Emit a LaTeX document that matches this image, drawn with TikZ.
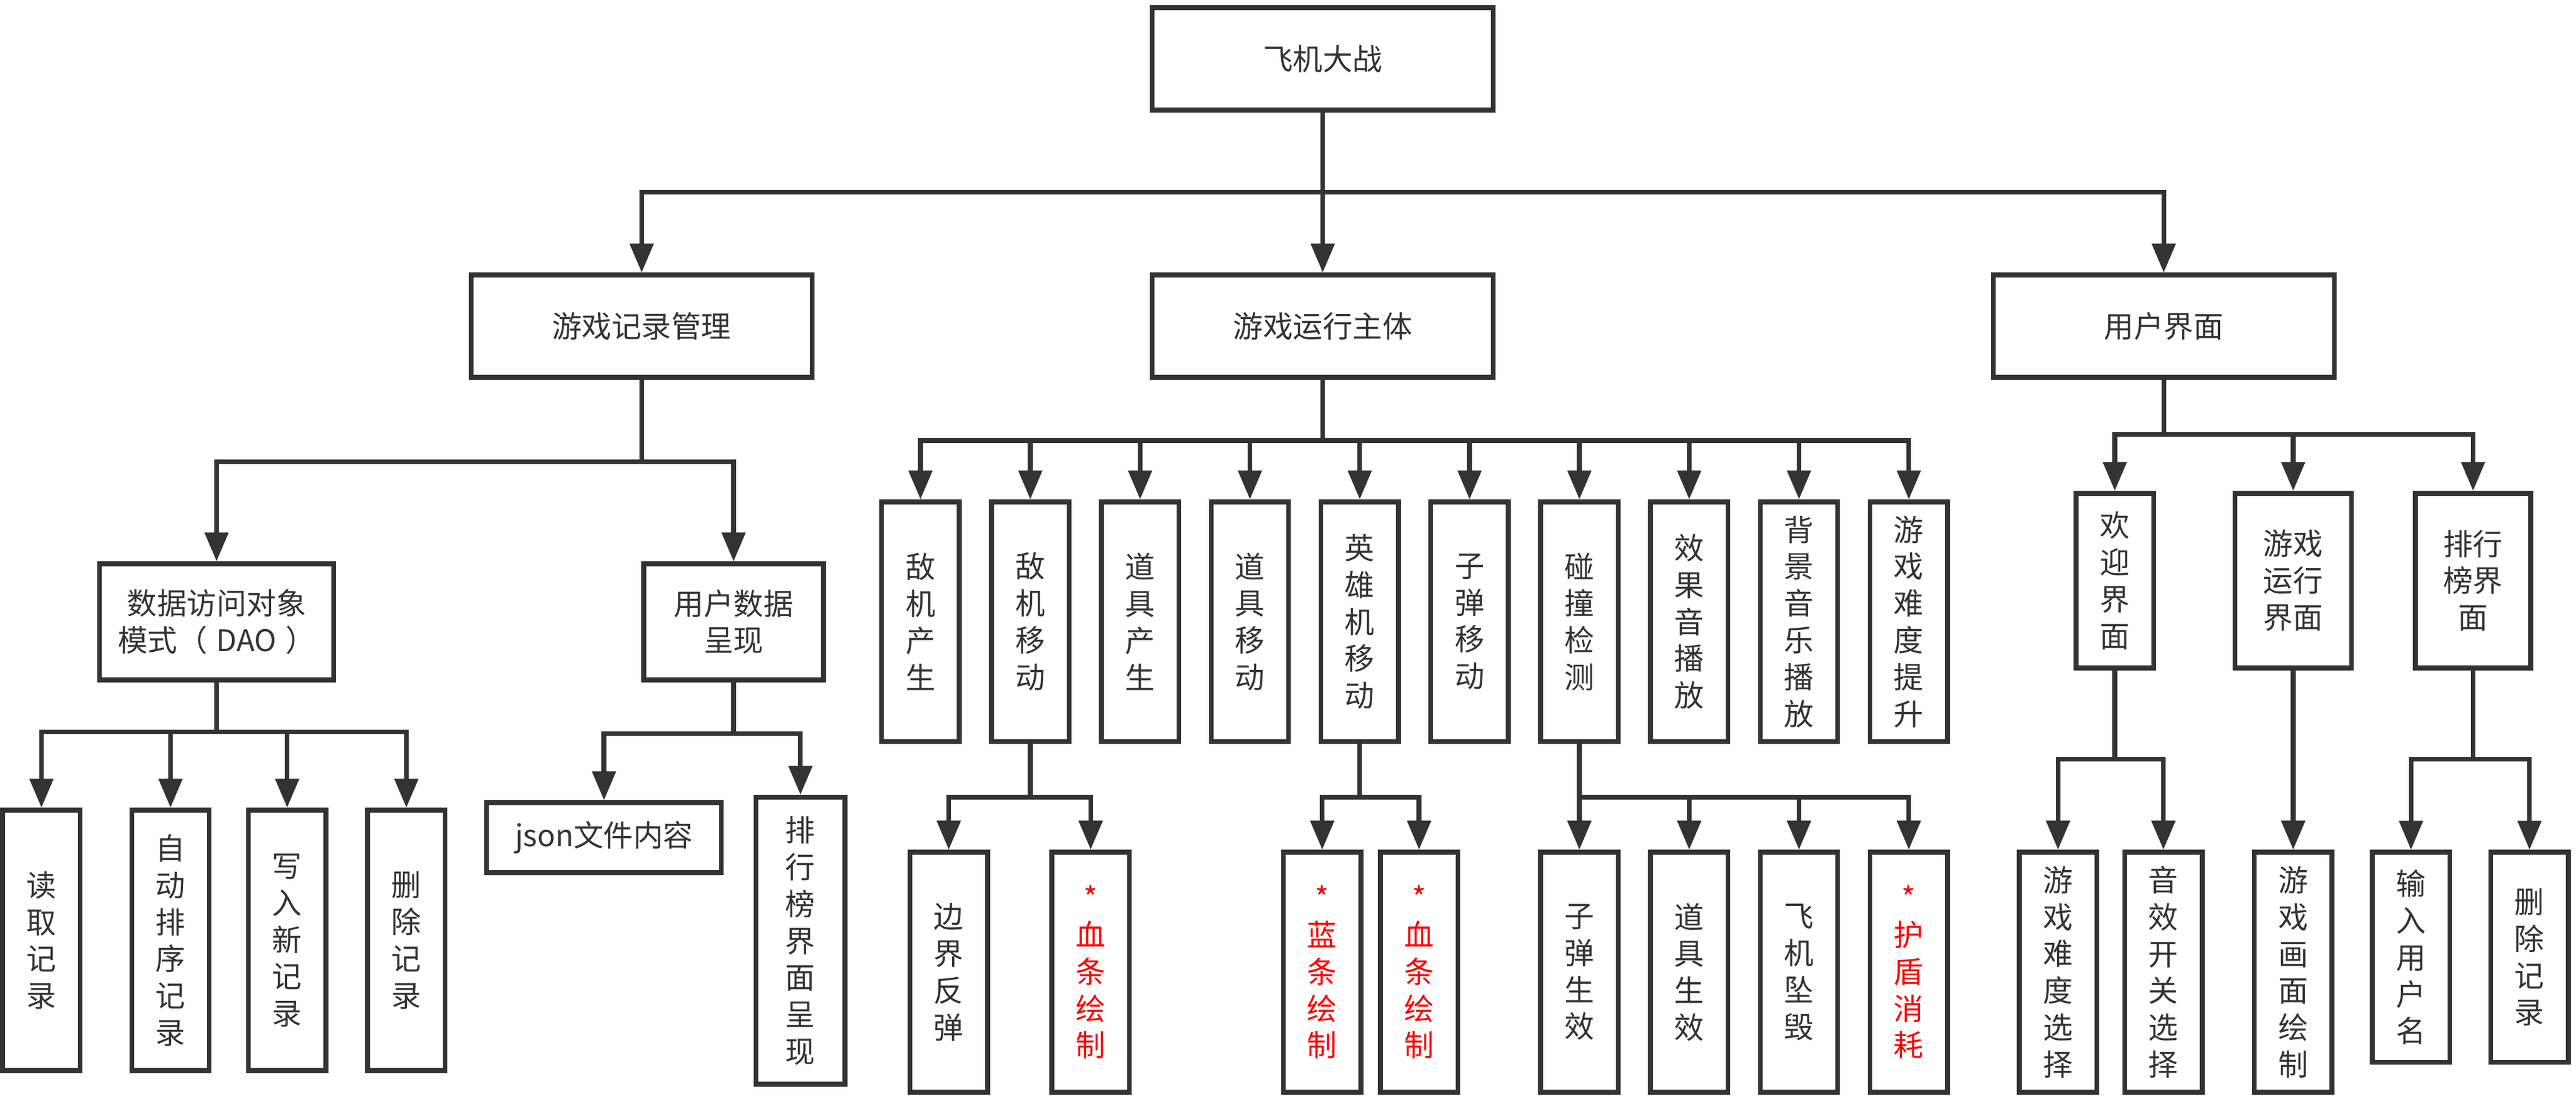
\documentclass[tikz,border=0pt]{standalone}
\usepackage{fontspec}
\setmainfont{Noto Sans CJK SC}
\usepackage{tikz}
\usetikzlibrary{arrows.meta,positioning}
\definecolor{ink}{HTML}{333333}
\tikzstyle{block} = [rectangle, draw=ink, line width=2.8pt, text=ink, inner sep=0pt,
    align=center, font=\fontsize{17.5}{21.6}\selectfont, minimum width=200pt, minimum height=60pt]
\tikzstyle{tall} = [block, minimum width=45.5pt, minimum height=140.5pt]
\tikzstyle{warn} = [text=red]
\tikzstyle{line} = [draw=ink, line width=2.8pt, -{Triangle[length=17pt,width=13.5pt]}]

\begin{document}
\begin{tikzpicture}[x=1pt, y=-1pt, node distance=64.4pt]
    \useasboundingbox (0,0) rectangle (1510.67,645.33);
    % Nodes
    \node [block] (game) at (775.7,34.5) {飞机大战};
    \node [block] (rec) at (376.3,191.2) {游戏记录管理};
    \node [block] (run) at (775.7,191.2) {游戏运行主体};
    \node [block] (ui) at (1268.9,191.2) {用户界面};
    % records
    \node [block, minimum width=137.3pt, minimum height=68pt] (dao) at (127,364.5) {数据访问对象\\模式（\hspace{0.3em}DAO\hspace{0.3em}）};
    \node [block, minimum width=105.3pt, minimum height=68pt] (show) at (430.2,364.5) {用户数据\\呈现};
    \node [tall, minimum height=152.7pt] (read) at (24.3,551.2) {读\\取\\记\\录};
    \node [tall, minimum height=152.7pt] (sort) at (100,551.2) {自\\动\\排\\序\\记\\录};
    \node [tall, minimum height=152.7pt] (write) at (168.4,551.2) {写\\入\\新\\记\\录};
    \node [tall, minimum height=152.7pt] (del) at (238.3,551.2) {删\\除\\记\\录};
    \node [block, minimum width=137.7pt, minimum height=41pt] (json) at (354.2,491) {json文件内容};
    \node [tall, minimum width=52.1pt, minimum height=168.2pt] (rank) at (469.4,551.4) {排\\行\\榜\\界\\面\\呈\\现};
    % game body
    \node [tall] (espawn) at (539.8,364.4) {敌\\机\\产\\生};
    \node [tall, right of=espawn] (emove) {敌\\机\\移\\动};
    \node [tall, right of=emove] (pspawn) {道\\具\\产\\生};
    \node [tall, right of=pspawn] (pmove) {道\\具\\移\\动};
    \node [tall, right of=pmove] (hmove) {英\\雄\\机\\移\\动};
    \node [tall, right of=hmove] (bmove) {子\\弹\\移\\动};
    \node [tall, right of=bmove] (hit) {碰\\撞\\检\\测};
    \node [tall, right of=hit] (sound) {效\\果\\音\\播\\放};
    \node [tall, right of=sound] (music) {背\\景\\音\\乐\\播\\放};
    \node [tall, right of=music] (level) {游\\戏\\难\\度\\提\\升};
    \node [tall, minimum height=140.7pt] (bounce) at (556.4,569.8) {边\\界\\反\\弹};
    \node [tall, warn, minimum height=140.7pt] (ehp) at (639.6,569.8) {*\\血\\条\\绘\\制};
    \node [tall, warn, minimum height=140.7pt] (blue) at (775.4,569.8) {*\\蓝\\条\\绘\\制};
    \node [tall, warn, minimum height=140.7pt] (hhp) at (832.2,569.8) {*\\血\\条\\绘\\制};
    \node [tall, minimum height=140.7pt] (bhit) at (hit |- 0,569.8) {子\\弹\\生\\效};
    \node [tall, minimum height=140.7pt] (phit) at (sound |- 0,569.8) {道\\具\\生\\效};
    \node [tall, minimum height=140.7pt] (crash) at (music |- 0,569.8) {飞\\机\\坠\\毁};
    \node [tall, warn, minimum height=140.7pt] (shield) at (level |- 0,569.8) {*\\护\\盾\\消\\耗};
    % user interface
    \node [tall, minimum height=102.3pt] (welcome) at (1240.2,340.3) {欢\\迎\\界\\面};
    \node [tall, minimum width=68.4pt, minimum height=102.3pt] (play) at (1344.8,340.3) {游戏\\运行\\界面};
    \node [tall, minimum width=67.7pt, minimum height=102.3pt] (board) at (1450.3,340.3) {排行\\榜界\\面};
    \node [tall, minimum height=140.7pt] (diff) at (1206.9,569.8) {游\\戏\\难\\度\\选\\择};
    \node [tall, minimum height=140.7pt] (sfx) at (1268.7,569.8) {音\\效\\开\\关\\选\\择};
    \node [tall, minimum height=140.7pt] (paint) at (play |- 0,569.8) {游\\戏\\画\\面\\绘\\制};
    \node [tall, minimum height=123.2pt] (name) at (1413.9,561.1) {输\\入\\用\\户\\名};
    \node [tall, minimum height=123.2pt] (erase) at (1483.4,561.1) {删\\除\\记\\录};
    % Bars
    \coordinate (b1) at (0,112.7);
    \coordinate (b2) at (0,270.7);
    \coordinate (b3) at (0,429);
    \coordinate (b4) at (0,430);
    \coordinate (b5) at (0,258.2);
    \coordinate (b6) at (0,467.3);
    \coordinate (b7) at (0,254.7);
    \coordinate (b8) at (0,445);
    % Paths
    \path [line] (game.south) -- (game.south |- b1) -| (rec.north);
    \path [line] (game.south) -- (run.north);
    \path [line] (game.south) -- (game.south |- b1) -| (ui.north);
    \path [line] (rec.south) -- (rec.south |- b2) -| (dao.north);
    \path [line] (rec.south) -- (rec.south |- b2) -| (show.north);
    \path [line] (dao.south) -- (dao.south |- b3) -| (read.north);
    \path [line] (dao.south) -- (dao.south |- b3) -| (sort.north);
    \path [line] (dao.south) -- (dao.south |- b3) -| (write.north);
    \path [line] (dao.south) -- (dao.south |- b3) -| (del.north);
    \path [line] (show.south) -- (show.south |- b4) -| (json.north);
    \path [line] (show.south) -- (show.south |- b4) -| (rank.north);
    \path [line] (run.south) -- (run.south |- b5) -| (espawn.north);
    \path [line] (run.south) -- (run.south |- b5) -| (emove.north);
    \path [line] (run.south) -- (run.south |- b5) -| (pspawn.north);
    \path [line] (run.south) -- (run.south |- b5) -| (pmove.north);
    \path [line] (run.south) -- (run.south |- b5) -| (hmove.north);
    \path [line] (run.south) -- (run.south |- b5) -| (bmove.north);
    \path [line] (run.south) -- (run.south |- b5) -| (hit.north);
    \path [line] (run.south) -- (run.south |- b5) -| (sound.north);
    \path [line] (run.south) -- (run.south |- b5) -| (music.north);
    \path [line] (run.south) -- (run.south |- b5) -| (level.north);
    \path [line] (emove.south) -- (emove.south |- b6) -| (bounce.north);
    \path [line] (emove.south) -- (emove.south |- b6) -| (ehp.north);
    \path [line] (hmove.south) -- (hmove.south |- b6) -| (blue.north);
    \path [line] (hmove.south) -- (hmove.south |- b6) -| (hhp.north);
    \path [line] (hit.south) -- (bhit.north);
    \path [line] (hit.south) -- (hit.south |- b6) -| (phit.north);
    \path [line] (hit.south) -- (hit.south |- b6) -| (crash.north);
    \path [line] (hit.south) -- (hit.south |- b6) -| (shield.north);
    \path [line] (ui.south) -- (ui.south |- b7) -| (welcome.north);
    \path [line] (ui.south) -- (ui.south |- b7) -| (play.north);
    \path [line] (ui.south) -- (ui.south |- b7) -| (board.north);
    \path [line] (welcome.south) -- (welcome.south |- b8) -| (diff.north);
    \path [line] (welcome.south) -- (welcome.south |- b8) -| (sfx.north);
    \path [line] (play.south) -- (paint.north);
    \path [line] (board.south) -- (board.south |- b8) -| (name.north);
    \path [line] (board.south) -- (board.south |- b8) -| (erase.north);
\end{tikzpicture}
\end{document}
